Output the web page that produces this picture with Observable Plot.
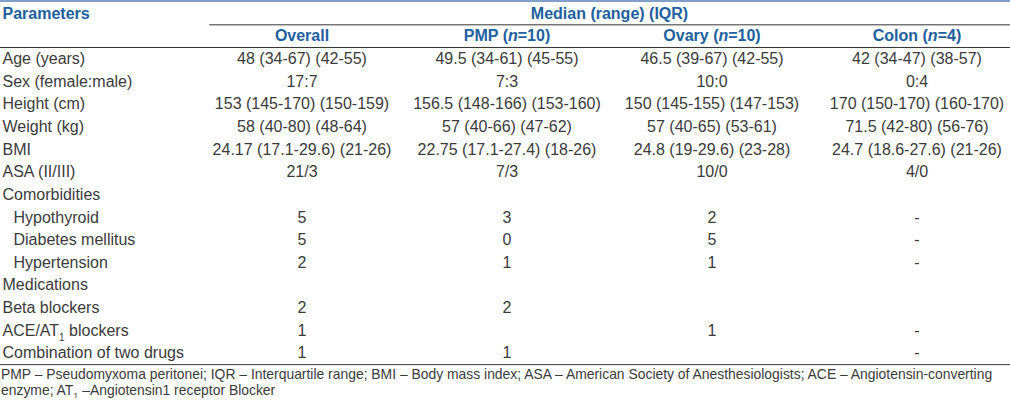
<!DOCTYPE html>
<html><head><meta charset="utf-8">
<script src="https://cdn.jsdelivr.net/npm/d3@7"></script>
<script src="https://cdn.jsdelivr.net/npm/@observablehq/plot@0.6"></script>
<style>
body{margin:0;background:#fff;font-family:"Liberation Sans",Arial,sans-serif;}
#chart{border-top:2px solid #829fca;width:1010px;}
#chart svg{display:block;}
#foot{font-size:13.9px;line-height:16px;color:#3b3b3b;padding-left:1px;white-space:nowrap;}
#foot sub{font-size:9px;vertical-align:-4px;line-height:0;}
</style></head><body>
<div id="chart"></div>
<div id="foot"></div>
<script>
// ---- data ----
const paramTitle = "Parameters";
const groupTitle = "Median (range) (IQR)";
const columns = ["Overall", "PMP (n=10)", "Ovary (n=10)", "Colon (n=4)"];
const rowLabels = ["Age (years)", "Sex (female:male)", "Height (cm)", "Weight (kg)", "BMI", "ASA (II/III)",
  "Comorbidities", "Hypothyroid", "Diabetes mellitus", "Hypertension", "Medications",
  "Beta blockers", "ACE/AT\u2081 blockers", "Combination of two drugs"];
const indented = [false, false, false, false, false, false, false, true, true, true, false, false, false, false];
const overall = ["48 (34-67) (42-55)", "17:7", "153 (145-170) (150-159)", "58 (40-80) (48-64)",
  "24.17 (17.1-29.6) (21-26)", "21/3", "", "5", "5", "2", "", "2", "1", "1"];
const pmp = ["49.5 (34-61) (45-55)", "7:3", "156.5 (148-166) (153-160)", "57 (40-66) (47-62)",
  "22.75 (17.1-27.4) (18-26)", "7/3", "", "3", "0", "1", "", "2", "", "1"];
const ovary = ["46.5 (39-67) (42-55)", "10:0", "150 (145-155) (147-153)", "57 (40-65) (53-61)",
  "24.8 (19-29.6) (23-28)", "10/0", "", "2", "5", "1", "", "", "1", ""];
const colon = ["42 (34-47) (38-57)", "0:4", "170 (150-170) (160-170)", "71.5 (42-80) (56-76)",
  "24.7 (18.6-27.6) (21-26)", "4/0", "", "-", "-", "-", "", "", "-", "-"];
const footnoteLines = [
  "PMP \u2013 Pseudomyxoma peritonei; IQR \u2013 Interquartile range; BMI \u2013 Body mass index; ASA \u2013 American Society of Anesthesiologists; ACE \u2013 Angiotensin-converting",
  "enzyme; AT\u2081 \u2013Angiotensin1 receptor Blocker"
];

// ---- table construction ----
const series = [overall, pmp, ovary, colon];
const headerRows = 2; // title row + column header row
const rows = rowLabels.map((label, i) => ({row: i + headerRows, label, sub: indented[i]}));
const cells = [];
series.forEach((vals, c) => vals.forEach((v, r) => { if (v) cells.push({row: r + headerRows, col: c + 1, text: v}); }));
const headerCells = columns.map((t, i) => ({row: 1, col: i + 1, text: t}));
const lastRow = rowLabels.length + headerRows - 1;

const blue = "#21609e";
const ink = "#3b3b3b";

const chart = Plot.plot({
  width: 1010,
  height: 364,
  margin: 0,
  x: {domain: [0.5, columns.length + 0.5], range: [199, 1019], axis: null},
  y: {domain: [0, lastRow], range: [11, 350.8], axis: null},
  style: {fontFamily: "'Liberation Sans', Arial, sans-serif", fontSize: "16px", background: "#fff", overflow: "visible"},
  marks: [
    Plot.ruleY([0.5], {x1: 0.55, x2: columns.length + 0.5, stroke: "#333", strokeWidth: 1}),
    Plot.ruleY([1.5, lastRow + 0.5], {stroke: "#333", strokeWidth: 1}),
    Plot.text([paramTitle], {y: () => 0, text: d => d, frameAnchor: "left", textAnchor: "start", dx: 2, fill: blue, fontWeight: "bold"}),
    Plot.text([groupTitle], {x: () => (columns.length + 1) / 2, y: () => 0, text: d => d, fill: blue, fontWeight: "bold"}),
    Plot.text(headerCells, {x: "col", y: "row", text: "text", fill: blue, fontWeight: "bold"}),
    Plot.text(rows.filter(d => !d.sub), {y: "row", text: "label", frameAnchor: "left", textAnchor: "start", dx: 2, fill: ink}),
    Plot.text(rows.filter(d => d.sub), {y: "row", text: "label", frameAnchor: "left", textAnchor: "start", dx: 13, fill: ink}),
    Plot.text(cells, {x: "col", y: "row", text: "text", fill: ink})
  ]
});
document.getElementById("chart").appendChild(chart);

// rich text: italic n, subscript 1
d3.select(chart).selectAll("text").each(function() {
  const el = this;
  if (el.querySelector("tspan")) return;
  const s = el.textContent;
  if (s.includes("(n=")) {
    const [a, b] = s.split("n=");
    el.textContent = "";
    el.appendChild(document.createTextNode(a));
    const t = document.createElementNS("http://www.w3.org/2000/svg", "tspan");
    t.setAttribute("font-style", "italic");
    t.textContent = "n";
    el.appendChild(t);
    el.appendChild(document.createTextNode("=" + b));
  } else if (s.includes("\u2081")) {
    const [a, b] = s.split("\u2081");
    el.textContent = "";
    el.appendChild(document.createTextNode(a));
    const t1 = document.createElementNS("http://www.w3.org/2000/svg", "tspan");
    t1.setAttribute("font-size", "10");
    t1.setAttribute("dy", "5");
    t1.textContent = "1";
    el.appendChild(t1);
    const t2 = document.createElementNS("http://www.w3.org/2000/svg", "tspan");
    t2.setAttribute("dy", "-5");
    t2.textContent = b;
    el.appendChild(t2);
  }
});

// footnote
const foot = document.getElementById("foot");
footnoteLines.forEach((line) => {
  const div = document.createElement("div");
  const parts = line.split("\u2081");
  div.appendChild(document.createTextNode(parts[0]));
  if (parts.length > 1) {
    const sub = document.createElement("sub");
    sub.textContent = "1";
    div.appendChild(sub);
    div.appendChild(document.createTextNode(parts[1]));
  }
  foot.appendChild(div);
});
</script>
</body></html>
